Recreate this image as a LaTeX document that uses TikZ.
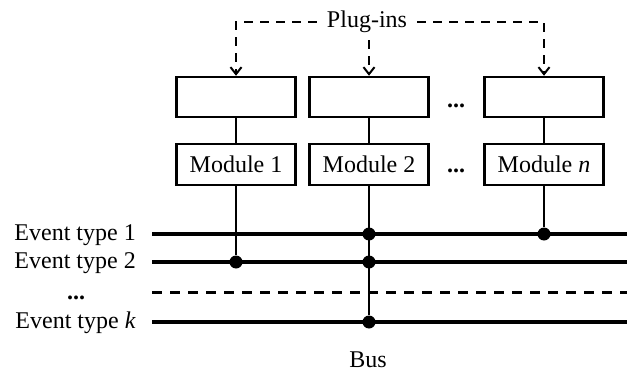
\documentclass[tikz,border=0pt]{standalone}
\usepackage{fontspec}
\setmainfont{Liberation Serif}
\usetikzlibrary{arrows.meta}
\begin{document}
\begin{tikzpicture}[x=1pt,y=-1pt,
  every node/.style={font=\fontsize{24}{28}\selectfont},
  modbox/.style={draw,line width=2.5pt,minimum width=119pt,minimum height=40pt,inner sep=0pt},
  plugline/.style={line width=2.5pt,dash pattern=on 9pt off 7pt},
  plugarrow/.style={plugline,-{Straight Barb[length=7pt,width=11pt,line width=2pt]}},
  link/.style={line width=2.5pt},
  busline/.style={line width=3.5pt},
  busdash/.style={line width=3pt,dash pattern=on 10pt off 8pt},
  junction/.style={circle,fill,inner sep=0pt,minimum size=13pt},
  dots/.style={anchor=base,inner sep=0pt,font=\fontsize{24}{28}\selectfont\bfseries},
  evlabel/.style={anchor=base east,inner sep=0pt}]
  \useasboundingbox (0,0) rectangle (627,372);

  % plug-in slots and modules
  \node[modbox] (t1) at (236,97) {};
  \node[modbox] (t2) at (369,97) {};
  \node[modbox] (tn) at (544,97) {};
  \node[modbox,minimum height=41pt] (m1) at (236,164.5) {Module 1};
  \node[modbox,minimum height=41pt] (m2) at (369,164.5) {Module 2};
  \node[modbox,minimum height=41pt] (mn) at (544,164.5) {Module \textit{n}};
  \node[dots] (dt) at (456,107) {...};
  \node[dots] (dm) at (456,172) {...};

  \draw[link] (t1) -- (m1);
  \draw[link] (t2) -- (m2);
  \draw[link] (tn) -- (mn);

  % plug-ins feeding the slots
  \node[inner xsep=10pt,inner ysep=4pt] (plug) at (367,22) {Plug-ins};
  \draw[plugarrow] (plug.west) -| (t1.north);
  \draw[plugarrow] (plug.east) -| (tn.north);
  \draw[plugarrow] ([yshift=-3pt]plug.south -| t2.north) -- (t2.north);

  % event bus
  \coordinate (e1a) at (152,234); \coordinate (e1b) at (627,234);
  \coordinate (e2a) at (152,262); \coordinate (e2b) at (627,262);
  \coordinate (eda) at (152,292); \coordinate (edb) at (627,292);
  \coordinate (eka) at (152,322); \coordinate (ekb) at (627,322);
  \draw[busline] (e1a) -- (e1b);
  \draw[busline] (e2a) -- (e2b);
  \draw[busdash] (eda) -- (edb);
  \draw[busline] (eka) -- (ekb);

  \node[evlabel] (l1) at (136,240) {Event type 1};
  \node[evlabel] (l2) at (136,268) {Event type 2};
  \node[dots] (ld) at (76,299) {...};
  \node[evlabel] (lk) at (136,328) {Event type \textit{k}};
  \node (bus) at (368,360) {Bus};

  % subscriptions of modules to event types
  \node[junction] (j12) at (236,262) {};
  \node[junction] (j21) at (369,234) {};
  \node[junction] (j22) at (369,262) {};
  \node[junction] (j2k) at (369,322) {};
  \node[junction] (jn1) at (544,234) {};
  \draw[link] (m1) -- (j12);
  \draw[link] (m2) -- (j2k);
  \draw[link] (mn) -- (jn1);
\end{tikzpicture}
\end{document}
